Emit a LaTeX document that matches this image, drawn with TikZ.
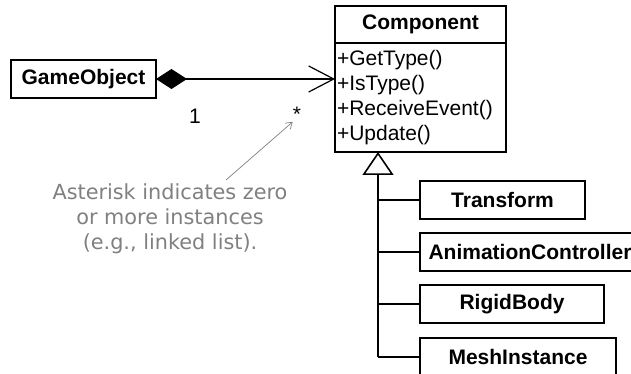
\documentclass[tikz,border=0pt]{standalone}
\usepackage{fontspec}
\setmainfont{Liberation Sans}
\newfontfamily\notefont{DejaVu Sans}
\usetikzlibrary{arrows.meta,positioning}
\definecolor{NoteColor}{RGB}{128,128,128}

\begin{document}
\begin{tikzpicture}[x=1pt, y=-1pt, font=\fontsize{21}{25}\selectfont,
    umlbox/.style={draw, line width=1.6pt, inner sep=0pt, outer sep=0pt, minimum height=38pt},
    classname/.style={umlbox, font=\fontsize{21}{25}\selectfont\bfseries},
    link/.style={line width=1.2pt},
    note/.style={text=NoteColor, font=\notefont\fontsize{20.8}{25}\selectfont}]
  \useasboundingbox (0,0) rectangle (631,374);
  % base class with its operations
  \node[classname, minimum width=171pt, minimum height=37pt] (comp) at (420.5,24.5) {Component};
  \node[umlbox, anchor=north, minimum width=171pt, minimum height=109pt, text width=167pt, align=left] (ops) at (comp.south) {+GetType()\\+IsType()\\+ReceiveEvent()\\+Update()};
  % owner and composition
  \node[classname, minimum width=145pt] (go) at (83.5,79) {GameObject};
  \draw[link, {Diamond[length=31pt, width=20pt]}-{Straight Barb[length=25pt, width=26pt]}] (go.east) -- (go.east -| ops.west);
  \node (one) at (195,116) {1};
  \node[anchor=north, inner sep=0pt] (many) at (297,107) {*};
  % remark
  \node[note, align=center] (hint) at (170,219) {Asterisk indicates zero\\or more instances\\(e.g., linked list).};
  \coordinate (hinttail) at (226,180);
  \draw[NoteColor, line width=0.7pt, -{Straight Barb[length=6pt, width=8pt]}] (hinttail) -- (many.south west);
  % derived classes
  \node[classname, anchor=west, minimum width=165pt] (tf) at (420,200) {Transform};
  \node[classname, anchor=west, minimum width=220pt] (anim) at (420,252) {AnimationController};
  \node[classname, anchor=west, minimum width=184pt] (rb) at (420,304) {RigidBody};
  \node[classname, anchor=west, minimum width=196pt] (mesh) at (420,357) {MeshInstance};
  \coordinate (trunk) at (378,357);
  \draw[link, -{Triangle[open, length=23pt, width=31pt, line width=1.6pt]}] (trunk) -- (trunk |- ops.south);
  \foreach \sub in {tf,anim,rb,mesh}
    \draw[link] (trunk |- \sub.west) -- (\sub.west);
\end{tikzpicture}
\end{document}
